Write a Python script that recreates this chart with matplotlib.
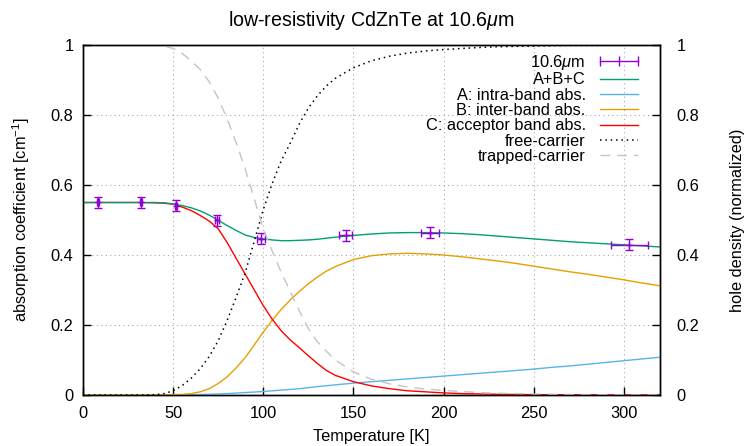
import matplotlib
matplotlib.use("Agg")
import matplotlib.pyplot as plt
from matplotlib.lines import Line2D

plt.rcParams['font.family'] = ['Liberation Sans', 'DejaVu Sans']
plt.rcParams['mathtext.fontset'] = 'custom'
plt.rcParams['mathtext.rm'] = 'Liberation Sans'
plt.rcParams['mathtext.it'] = 'Liberation Sans:italic'
plt.rcParams['font.size'] = 11.8

# ---- measured data (10.6 um) ----
meas_T = [8.2, 32.2, 51.7, 74.3, 98.7, 145.6, 192.4, 303.0]
meas_a = [0.550, 0.550, 0.541, 0.499, 0.447, 0.456, 0.464, 0.429]
meas_Terr = [0.5, 0.5, 0.5, 1.0, 2.1, 3.4, 5.2, 10.2]
meas_aerr = [0.016, 0.016, 0.016, 0.016, 0.016, 0.016, 0.016, 0.016]

# ---- model curves ----
T = [0, 10, 20, 30, 40, 45, 50, 55, 60, 65, 70, 75, 80, 85, 90, 95, 100, 105,
     110, 115, 120, 125, 130, 135, 140, 150, 160, 170, 180, 190, 200, 210, 220,
     230, 240, 250, 260, 270, 280, 290, 300, 310, 320]

total = [0.550, 0.550, 0.550, 0.550, 0.550, 0.549, 0.546, 0.541, 0.535, 0.526,
         0.514, 0.499, 0.484, 0.470, 0.457, 0.450, 0.446, 0.443, 0.441, 0.441,
         0.442, 0.443, 0.445, 0.448, 0.451, 0.456, 0.460, 0.463, 0.464, 0.464,
         0.463, 0.461, 0.458, 0.454, 0.450, 0.446, 0.442, 0.438, 0.435, 0.432,
         0.429, 0.426, 0.423]

intra = [0, 0, 0, 0, 0, 0, 0, 0.0005, 0.001, 0.0015, 0.002, 0.003, 0.004,
         0.0055, 0.007, 0.0085, 0.010, 0.012, 0.014, 0.016, 0.018, 0.021,
         0.024, 0.0265, 0.029, 0.034, 0.038, 0.042, 0.046, 0.050, 0.054, 0.058,
         0.062, 0.066, 0.070, 0.074, 0.079, 0.083, 0.088, 0.093, 0.098, 0.103,
         0.108]

inter = [0, 0, 0, 0, 0, 0, 0.001, 0.0015, 0.004, 0.009, 0.018, 0.033, 0.052,
         0.078, 0.107, 0.143, 0.180, 0.214, 0.245, 0.272, 0.296, 0.318, 0.337,
         0.354, 0.367, 0.387, 0.398, 0.403, 0.405, 0.403, 0.400, 0.395, 0.389,
         0.383, 0.376, 0.368, 0.360, 0.352, 0.345, 0.337, 0.329, 0.320, 0.312]

acceptor = [0.550, 0.550, 0.550, 0.550, 0.549, 0.548, 0.545, 0.537, 0.527,
            0.513, 0.497, 0.475, 0.435, 0.390, 0.345, 0.300, 0.255, 0.216,
            0.183, 0.157, 0.135, 0.112, 0.090, 0.070, 0.056, 0.038, 0.026,
            0.018, 0.012, 0.009, 0.006, 0.004, 0.003, 0.002, 0.0015, 0.001,
            0.0007, 0.0005, 0.0003, 0.0002, 0.0001, 0.0001, 0.0]

free = [0, 0, 0, 0, 0.001, 0.004, 0.012, 0.027, 0.048, 0.075, 0.110, 0.155,
        0.214, 0.280, 0.350, 0.440, 0.530, 0.605, 0.670, 0.720, 0.775, 0.820,
        0.855, 0.883, 0.905, 0.935, 0.955, 0.968, 0.977, 0.983, 0.987, 0.990,
        0.993, 0.995, 0.996, 0.997, 0.998, 0.999, 0.999, 0.999, 1.0, 1.0, 1.0]

trapped = [1.0, 1.0, 1.0, 1.0, 1.0, 0.997, 0.990, 0.976, 0.955, 0.930, 0.895,
           0.848, 0.788, 0.720, 0.645, 0.560, 0.475, 0.410, 0.350, 0.295,
           0.240, 0.190, 0.152, 0.125, 0.100, 0.066, 0.045, 0.032, 0.023,
           0.017, 0.013, 0.010, 0.007, 0.005, 0.004, 0.003, 0.002, 0.0015,
           0.001, 0.001, 0.0007, 0.0005, 0.0005]

xticks = [0, 50, 100, 150, 200, 250, 300]
yticks = [0, 0.2, 0.4, 0.6, 0.8, 1]
ytick_labels = ['0', '0.2', '0.4', '0.6', '0.8', '1']

PURPLE = '#9400d3'
GREEN = '#009e73'
BLUE = '#56b4e9'
ORANGE = '#e69f00'
RED = '#ff0000'

fig = plt.figure(figsize=(7.44, 4.46), dpi=100)
ax = fig.add_axes([83/744, 1-395/446, (660-83)/744, (395-45)/446])
ax2 = ax.twinx()

ax.set_xlim(0, 320)
ax.set_ylim(0, 1)
ax2.set_ylim(0, 1)

grid_kw = dict(color='#a8a8a8', lw=0.8, ls=(0, (1, 3)), zorder=0)
for xt in xticks[1:]:
    ax.axvline(xt, **grid_kw)
for yt in yticks[1:-1]:
    ax.axhline(yt, **grid_kw)

ax.plot(T, intra, color=BLUE, lw=1.0, label='A: intra-band abs.', zorder=3)
ax.plot(T, inter, color=ORANGE, lw=1.0, label='B: inter-band abs.', zorder=3)
ax.plot(T, acceptor, color=RED, lw=1.0, label='C: acceptor band abs.', zorder=3)
ax.plot(T, total, color=GREEN, lw=1.0, label='A+B+C', zorder=3)
ax.errorbar(meas_T, meas_a, xerr=meas_Terr, yerr=meas_aerr, fmt='+',
            color=PURPLE, ecolor=PURPLE, elinewidth=1.0, capsize=3,
            capthick=1.0, markersize=5, zorder=4)

ax2.plot(T, free, color='black', lw=1.1, ls=(0, (1, 2.5)))
ax2.plot(T, trapped, color='#c4c4c4', lw=1.0, ls=(0, (7, 5)))

ax.set_xticks(xticks)
ax.set_yticks(yticks)
ax.set_yticklabels(ytick_labels)
ax2.set_yticks(yticks)
ax2.set_yticklabels(ytick_labels)
ax.tick_params(axis='both', direction='in', length=6, width=1, pad=7,
               top=False, right=False)
ax.tick_params(axis='x', pad=8)
ax2.tick_params(axis='y', direction='in', length=6, width=1, pad=12)
for a in (ax, ax2):
    for s in a.spines.values():
        s.set_linewidth(1.0)

ax.set_xlabel('Temperature [K]', labelpad=6)
ax.set_ylabel('absorption coefficient [cm$^{-1}$]', labelpad=13)
ax2.set_ylabel('hole density (normalized)', labelpad=22)
ax.set_title('low-resistivity CdZnTe at 10.6$\\mathit{\\mu}$m', pad=14)

handles = [
    Line2D([0], [0], color=PURPLE, lw=1.0, marker='|', markersize=7,
           markeredgewidth=1.0),
    Line2D([0], [0], color=GREEN, lw=1.0),
    Line2D([0], [0], color=BLUE, lw=1.0),
    Line2D([0], [0], color=ORANGE, lw=1.0),
    Line2D([0], [0], color=RED, lw=1.0),
    Line2D([0], [0], color='black', lw=1.1, ls=(0, (1, 2.5))),
    Line2D([0], [0], color='#c4c4c4', lw=1.0, ls=(0, (7, 5))),
]
labels = ['10.6$\\mathit{\\mu}$m', 'A+B+C', 'A: intra-band abs.',
          'B: inter-band abs.', 'C: acceptor band abs.', 'free-carrier',
          'trapped-carrier']
leg = ax2.legend(handles, labels, loc='upper right',
                 bbox_to_anchor=(1 - 17/577, 1 - 8/350), borderaxespad=0,
                 frameon=False, markerfirst=False, numpoints=3,
                 handlelength=2.9, handletextpad=0.6, labelspacing=0.02,
                 borderpad=0)

fig.savefig('out.png', dpi=100)
